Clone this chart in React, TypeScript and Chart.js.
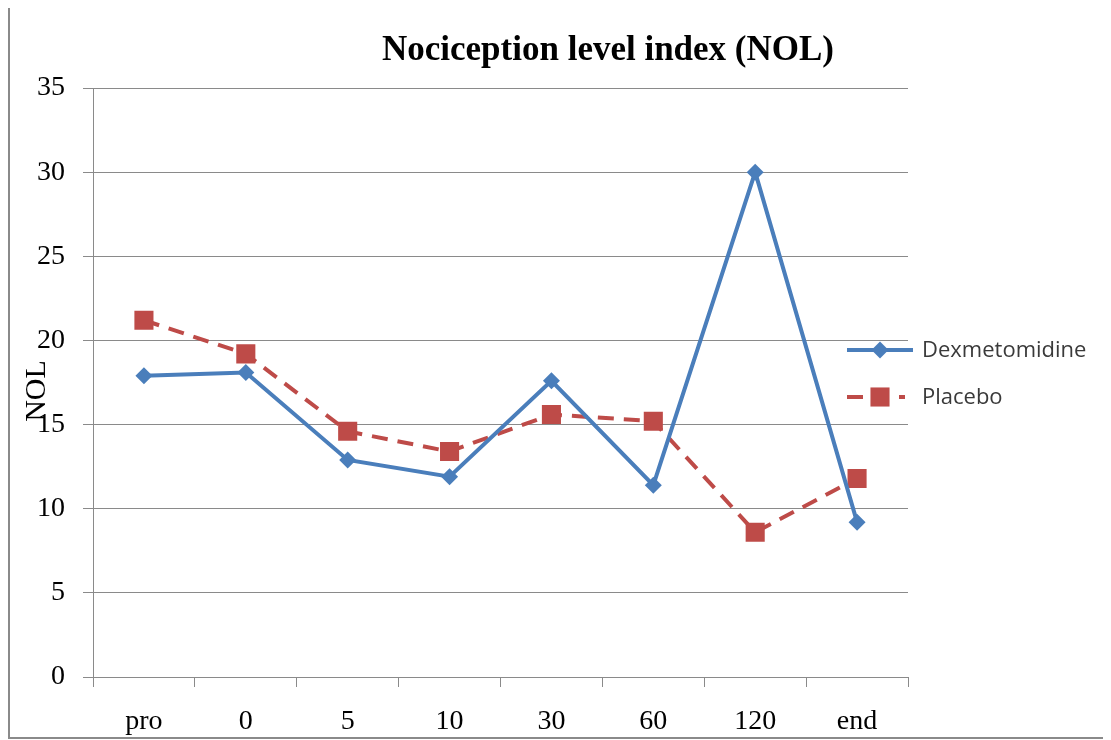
import React, { useEffect, useRef } from 'react';
import { Chart, registerables } from 'chart.js';

Chart.register(...registerables);

const categories = ['pro', '0', '5', '10', '30', '60', '120', 'end'];
const dexValues = [17.9, 18.1, 12.9, 11.9, 17.6, 11.4, 30.0, 9.2];
const placeboValues = [21.2, 19.2, 14.6, 13.4, 15.6, 15.2, 8.6, 11.8];
const seriesNames = ['Dexmetomidine', 'Placebo'];
const yMin = 0;
const yMax = 35;
const yStep = 5;
const chartTitle = 'Nociception level index (NOL)';
const yAxisTitle = 'NOL';

const BLUE = '#4a7ebb';
const RED = '#be4b48';
const GRID = '#8a8a8a';
const SERIF = '"Liberation Serif", "Times New Roman", serif';
const SANS = '"Open Sans", "Noto Sans", sans-serif';

function drawMarker(ctx: CanvasRenderingContext2D, style: string, x: number, y: number, r: number, color: string) {
  ctx.save();
  ctx.fillStyle = color;
  ctx.beginPath();
  if (style === 'rectRot') {
    ctx.moveTo(x, y - r);
    ctx.lineTo(x + r, y);
    ctx.lineTo(x, y + r);
    ctx.lineTo(x - r, y);
  } else {
    const h = r * Math.SQRT1_2;
    ctx.rect(x - h, y - h, 2 * h, 2 * h);
  }
  ctx.closePath();
  ctx.fill();
  ctx.restore();
}

const overlayPlugin = {
  id: 'overlay',
  afterDraw(chart: any) {
    const ctx: CanvasRenderingContext2D = chart.ctx;
    ctx.save();
    // title
    ctx.font = `bold 35px ${SERIF}`;
    ctx.fillStyle = '#000';
    ctx.textAlign = 'center';
    ctx.textBaseline = 'alphabetic';
    ctx.fillText(chartTitle, 598, 52);
    // y axis title
    ctx.save();
    ctx.translate(35, 383);
    ctx.rotate(-Math.PI / 2);
    ctx.font = `30px ${SERIF}`;
    ctx.textAlign = 'center';
    ctx.textBaseline = 'alphabetic';
    ctx.fillText(yAxisTitle, 0, 0);
    ctx.restore();
    // legend
    const legendYs = [342, 389];
    chart.data.datasets.forEach((ds: any, i: number) => {
      const y = legendYs[i];
      ctx.save();
      ctx.strokeStyle = ds.borderColor;
      ctx.lineWidth = ds.borderWidth;
      ctx.setLineDash(ds.borderDash || []);
      ctx.beginPath();
      ctx.moveTo(837, y);
      ctx.lineTo(ds.borderDash && ds.borderDash.length ? 895 : 903, y);
      ctx.stroke();
      ctx.restore();
      drawMarker(ctx, ds.pointStyle, 870, y, ds.pointRadius, ds.pointBackgroundColor);
      ctx.font = `22px ${SANS}`;
      ctx.fillStyle = '#3a3a3a';
      ctx.textAlign = 'left';
      ctx.textBaseline = 'middle';
      ctx.fillText(ds.label, 912, y + 1);
    });
    ctx.restore();
  },
};

export default function App() {
  const ref = useRef<HTMLCanvasElement | null>(null);
  useEffect(() => {
    if (!ref.current) return;
    const chart = new Chart(ref.current, {
      type: 'line',
      data: {
        labels: categories,
        datasets: [
          {
            label: seriesNames[0],
            data: dexValues,
            borderColor: BLUE,
            backgroundColor: BLUE,
            borderWidth: 4,
            pointStyle: 'rectRot',
            pointRadius: 8.5,
            pointBackgroundColor: BLUE,
            pointBorderColor: BLUE,
            pointBorderWidth: 0,
            tension: 0,
          },
          {
            label: seriesNames[1],
            data: placeboValues,
            borderColor: RED,
            backgroundColor: RED,
            borderWidth: 4,
            borderDash: [16, 10],
            pointStyle: 'rect',
            pointRadius: 13.5,
            pointBackgroundColor: RED,
            pointBorderColor: RED,
            pointBorderWidth: 0,
            tension: 0,
          },
        ],
      },
      options: {
        responsive: false,
        animation: false,
        layout: { padding: { left: 0, top: 80, right: 198, bottom: 0 } },
        plugins: {
          legend: { display: false },
          title: { display: false },
          tooltip: { enabled: false },
        },
        scales: {
          x: {
            type: 'category',
            offset: true,
            afterFit: (s: any) => { s.height = 60; },
            grid: {
              display: true,
              offset: true,
              drawOnChartArea: false,
              drawTicks: true,
              tickLength: 10,
              color: GRID,
            },
            border: { display: true, color: GRID, width: 1 },
            ticks: {
              color: '#000',
              padding: 18,
              maxRotation: 0,
              font: { family: SERIF, size: 28 },
            },
          },
          y: {
            min: yMin,
            max: yMax,
            afterFit: (s: any) => { s.width = 83; },
            grid: {
              color: GRID,
              drawTicks: true,
              tickLength: 10,
            },
            border: { display: true, color: GRID, width: 1 },
            ticks: {
              stepSize: yStep,
              color: '#000',
              padding: 18,
              font: { family: SERIF, size: 28 },
            },
          },
        },
      },
      plugins: [overlayPlugin],
    });
    return () => chart.destroy();
  }, []);
  return (
    <div
      style={{
        width: 1096,
        height: 729,
        marginTop: -2,
        borderLeft: '2px solid #8a8a8a',
        borderTop: '2px solid #8a8a8a',
        borderBottom: '2px solid #8a8a8a',
        borderRight: '1px solid #e2e2e2',
        background: '#fff',
      }}
    >
      <canvas ref={ref} width={1096} height={729} style={{ display: 'block' }} />
    </div>
  );
}
